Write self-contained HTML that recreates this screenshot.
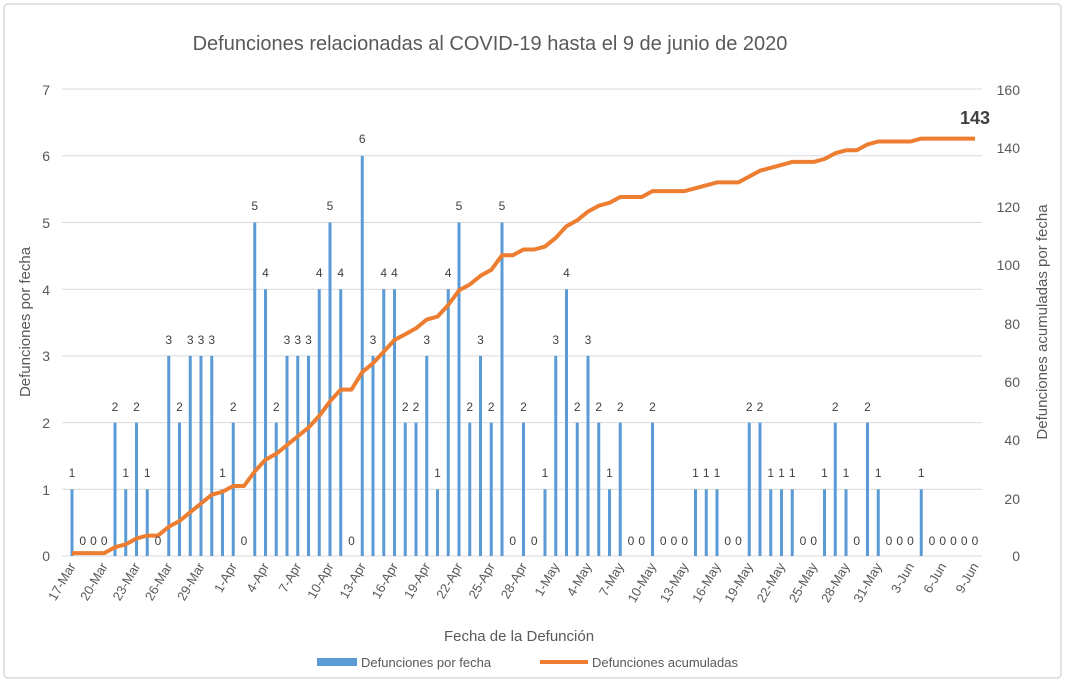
<!DOCTYPE html>
<html><head><meta charset="utf-8"><style>
html,body{margin:0;padding:0;background:#fff}
svg{display:block;font-family:"Liberation Sans",sans-serif}
</style></head><body>
<svg width="1065" height="682" viewBox="0 0 1065 682">
<rect x="4" y="4" width="1057" height="674" rx="4" fill="#fff" stroke="#d9d9d9" stroke-width="1.5"/>
<text x="490" y="50" font-size="20" fill="#595959" text-anchor="middle">Defunciones relacionadas al COVID-19 hasta el 9 de junio de 2020</text>
<g stroke="#d9d9d9" stroke-width="1">
<line x1="62" x2="982" y1="89" y2="89"/><line x1="62" x2="982" y1="155.8" y2="155.8"/><line x1="62" x2="982" y1="222.5" y2="222.5"/><line x1="62" x2="982" y1="289.2" y2="289.2"/><line x1="62" x2="982" y1="355.9" y2="355.9"/><line x1="62" x2="982" y1="422.6" y2="422.6"/><line x1="62" x2="982" y1="489.3" y2="489.3"/><line x1="62" x2="982" y1="556" y2="556"/>
</g>
<g font-size="14" fill="#595959" text-anchor="end">
<text x="50" y="95">7</text><text x="50" y="161">6</text><text x="50" y="228">5</text><text x="50" y="295">4</text><text x="50" y="361">3</text><text x="50" y="428">2</text><text x="50" y="495">1</text><text x="50" y="561">0</text>
</g>
<g font-size="14" fill="#595959" text-anchor="end">
<text x="1020" y="95">160</text><text x="1020" y="153">140</text><text x="1020" y="212">120</text><text x="1020" y="270">100</text><text x="1020" y="329">80</text><text x="1020" y="387">60</text><text x="1020" y="445">40</text><text x="1020" y="504">20</text><text x="1020" y="561">0</text>
</g>
<text transform="translate(30,322) rotate(-90)" font-size="15" fill="#595959" text-anchor="middle">Defunciones por fecha</text>
<text transform="translate(1047,322) rotate(-90)" font-size="15" fill="#595959" text-anchor="middle">Defunciones acumuladas por fecha</text>
<g transform="translate(0,556) scale(1,-66.7)" fill="#5b9bd5">
<rect x="70.5" y="0" width="3" height="1"/>
<rect x="113.5" y="0" width="3" height="2"/><rect x="124.25" y="0" width="3" height="1"/><rect x="135" y="0" width="3" height="2"/><rect x="145.75" y="0" width="3" height="1"/>
<rect x="167.25" y="0" width="3" height="3"/><rect x="178" y="0" width="3" height="2"/><rect x="188.75" y="0" width="3" height="3"/><rect x="199.5" y="0" width="3" height="3"/><rect x="210.25" y="0" width="3" height="3"/><rect x="221" y="0" width="3" height="1"/><rect x="231.75" y="0" width="3" height="2"/>
<rect x="253.25" y="0" width="3" height="5"/><rect x="264" y="0" width="3" height="4"/><rect x="274.75" y="0" width="3" height="2"/><rect x="285.5" y="0" width="3" height="3"/><rect x="296.25" y="0" width="3" height="3"/><rect x="307" y="0" width="3" height="3"/><rect x="317.75" y="0" width="3" height="4"/><rect x="328.5" y="0" width="3" height="5"/><rect x="339.25" y="0" width="3" height="4"/>
<rect x="360.75" y="0" width="3" height="6"/><rect x="371.5" y="0" width="3" height="3"/><rect x="382.25" y="0" width="3" height="4"/><rect x="393" y="0" width="3" height="4"/><rect x="403.75" y="0" width="3" height="2"/><rect x="414.5" y="0" width="3" height="2"/><rect x="425.25" y="0" width="3" height="3"/><rect x="436" y="0" width="3" height="1"/><rect x="446.75" y="0" width="3" height="4"/><rect x="457.5" y="0" width="3" height="5"/><rect x="468.25" y="0" width="3" height="2"/><rect x="479" y="0" width="3" height="3"/><rect x="489.75" y="0" width="3" height="2"/><rect x="500.5" y="0" width="3" height="5"/>
<rect x="522" y="0" width="3" height="2"/><rect x="543.5" y="0" width="3" height="1"/><rect x="554.25" y="0" width="3" height="3"/><rect x="565" y="0" width="3" height="4"/><rect x="575.75" y="0" width="3" height="2"/><rect x="586.5" y="0" width="3" height="3"/><rect x="597.25" y="0" width="3" height="2"/><rect x="608" y="0" width="3" height="1"/><rect x="618.75" y="0" width="3" height="2"/>
<rect x="651" y="0" width="3" height="2"/><rect x="694" y="0" width="3" height="1"/><rect x="704.75" y="0" width="3" height="1"/><rect x="715.5" y="0" width="3" height="1"/>
<rect x="747.75" y="0" width="3" height="2"/><rect x="758.5" y="0" width="3" height="2"/><rect x="769.25" y="0" width="3" height="1"/><rect x="780" y="0" width="3" height="1"/><rect x="790.75" y="0" width="3" height="1"/>
<rect x="823" y="0" width="3" height="1"/><rect x="833.75" y="0" width="3" height="2"/><rect x="844.5" y="0" width="3" height="1"/><rect x="866" y="0" width="3" height="2"/><rect x="876.75" y="0" width="3" height="1"/><rect x="919.75" y="0" width="3" height="1"/>
</g>
<polyline fill="none" stroke="#ed7d31" stroke-width="4" stroke-linejoin="round" points="72,553.1 82.75,553.1 93.5,553.1 104.25,553.1 115,547.2 125.75,544.3 136.5,538.5 147.25,535.6 158,535.6 168.75,526.8 179.5,521 190.25,512.2 201,503.5 211.75,494.7 222.5,491.8 233.25,486 244,486 254.75,471.4 265.5,459.7 276.25,453.8 287,445.1 297.75,436.3 308.5,427.6 319.25,415.9 330,401.3 340.75,389.6 351.5,389.6 362.25,372.1 373,363.3 383.75,351.7 394.5,340 405.25,334.2 416,328.3 426.75,319.6 437.5,316.6 448.25,305 459,290.4 469.75,284.5 480.5,275.8 491.25,269.9 502,255.3 512.75,255.3 523.5,249.5 534.25,249.5 545,246.6 555.75,237.8 566.5,226.2 577.25,220.3 588,211.6 598.75,205.7 609.5,202.8 620.25,197 631,197 641.75,197 652.5,191.1 663.25,191.1 674,191.1 684.75,191.1 695.5,188.2 706.25,185.3 717,182.4 727.75,182.4 738.5,182.4 749.25,176.5 760,170.7 770.75,167.8 781.5,164.9 792.25,161.9 803,161.9 813.75,161.9 824.5,159 835.25,153.2 846,150.3 856.75,150.3 867.5,144.4 878.25,141.5 889,141.5 899.75,141.5 910.5,141.5 921.25,138.6 932,138.6 942.75,138.6 953.5,138.6 964.25,138.6 975,138.6"/>
<g font-size="12" fill="#404040" text-anchor="middle">
<text x="72" y="477">1</text><text x="82.75" y="545">0</text><text x="93.5" y="545">0</text><text x="104.25" y="545">0</text><text x="115" y="411">2</text><text x="125.75" y="477">1</text><text x="136.5" y="411">2</text><text x="147.25" y="477">1</text><text x="158" y="545">0</text><text x="168.75" y="344">3</text><text x="179.5" y="411">2</text><text x="190.25" y="344">3</text><text x="201" y="344">3</text><text x="211.75" y="344">3</text><text x="222.5" y="477">1</text><text x="233.25" y="411">2</text><text x="244" y="545">0</text><text x="254.75" y="210">5</text><text x="265.5" y="277">4</text><text x="276.25" y="411">2</text><text x="287" y="344">3</text><text x="297.75" y="344">3</text><text x="308.5" y="344">3</text><text x="319.25" y="277">4</text><text x="330" y="210">5</text><text x="340.75" y="277">4</text><text x="351.5" y="545">0</text><text x="362.25" y="143">6</text><text x="373" y="344">3</text><text x="383.75" y="277">4</text><text x="394.5" y="277">4</text><text x="405.25" y="411">2</text><text x="416" y="411">2</text><text x="426.75" y="344">3</text><text x="437.5" y="477">1</text><text x="448.25" y="277">4</text><text x="459" y="210">5</text><text x="469.75" y="411">2</text><text x="480.5" y="344">3</text><text x="491.25" y="411">2</text><text x="502" y="210">5</text><text x="512.75" y="545">0</text><text x="523.5" y="411">2</text><text x="534.25" y="545">0</text><text x="545" y="477">1</text><text x="555.75" y="344">3</text><text x="566.5" y="277">4</text><text x="577.25" y="411">2</text><text x="588" y="344">3</text><text x="598.75" y="411">2</text><text x="609.5" y="477">1</text><text x="620.25" y="411">2</text><text x="631" y="545">0</text><text x="641.75" y="545">0</text><text x="652.5" y="411">2</text><text x="663.25" y="545">0</text><text x="674" y="545">0</text><text x="684.75" y="545">0</text><text x="695.5" y="477">1</text><text x="706.25" y="477">1</text><text x="717" y="477">1</text><text x="727.75" y="545">0</text><text x="738.5" y="545">0</text><text x="749.25" y="411">2</text><text x="760" y="411">2</text><text x="770.75" y="477">1</text><text x="781.5" y="477">1</text><text x="792.25" y="477">1</text><text x="803" y="545">0</text><text x="813.75" y="545">0</text><text x="824.5" y="477">1</text><text x="835.25" y="411">2</text><text x="846" y="477">1</text><text x="856.75" y="545">0</text><text x="867.5" y="411">2</text><text x="878.25" y="477">1</text><text x="889" y="545">0</text><text x="899.75" y="545">0</text><text x="910.5" y="545">0</text><text x="921.25" y="477">1</text><text x="932" y="545">0</text><text x="942.75" y="545">0</text><text x="953.5" y="545">0</text><text x="964.25" y="545">0</text><text x="975" y="545">0</text>
</g>
<text x="975" y="124" font-size="18" font-weight="bold" fill="#404040" text-anchor="middle">143</text>
<g font-size="13" fill="#595959" text-anchor="end">
<text transform="translate(76,566) rotate(-60)">17-Mar</text><text transform="translate(108,566) rotate(-60)">20-Mar</text><text transform="translate(140.5,566) rotate(-60)">23-Mar</text><text transform="translate(172.75,566) rotate(-60)">26-Mar</text><text transform="translate(205,566) rotate(-60)">29-Mar</text><text transform="translate(237.25,566) rotate(-60)">1-Apr</text><text transform="translate(269.5,566) rotate(-60)">4-Apr</text><text transform="translate(301.75,566) rotate(-60)">7-Apr</text><text transform="translate(334,566) rotate(-60)">10-Apr</text><text transform="translate(366.25,566) rotate(-60)">13-Apr</text><text transform="translate(398.5,566) rotate(-60)">16-Apr</text><text transform="translate(430.75,566) rotate(-60)">19-Apr</text><text transform="translate(463,566) rotate(-60)">22-Apr</text><text transform="translate(495.25,566) rotate(-60)">25-Apr</text><text transform="translate(527.5,566) rotate(-60)">28-Apr</text><text transform="translate(559.75,566) rotate(-60)">1-May</text><text transform="translate(592,566) rotate(-60)">4-May</text><text transform="translate(624.25,566) rotate(-60)">7-May</text><text transform="translate(656.5,566) rotate(-60)">10-May</text><text transform="translate(688.75,566) rotate(-60)">13-May</text><text transform="translate(721,566) rotate(-60)">16-May</text><text transform="translate(753.25,566) rotate(-60)">19-May</text><text transform="translate(785.5,566) rotate(-60)">22-May</text><text transform="translate(817.75,566) rotate(-60)">25-May</text><text transform="translate(850,566) rotate(-60)">28-May</text><text transform="translate(882.25,566) rotate(-60)">31-May</text><text transform="translate(914.5,566) rotate(-60)">3-Jun</text><text transform="translate(946.75,566) rotate(-60)">6-Jun</text><text transform="translate(979,566) rotate(-60)">9-Jun</text>
</g>
<text x="519" y="641" font-size="15" fill="#595959" text-anchor="middle">Fecha de la Defunción</text>
<rect x="317" y="658" width="40" height="8" fill="#5b9bd5"/>
<text x="361" y="667" font-size="13" fill="#595959">Defunciones por fecha</text>
<line x1="540" x2="588" y1="662" y2="662" stroke="#ed7d31" stroke-width="4"/>
<text x="592" y="667" font-size="13" fill="#595959">Defunciones acumuladas</text>
</svg>
</body></html>
